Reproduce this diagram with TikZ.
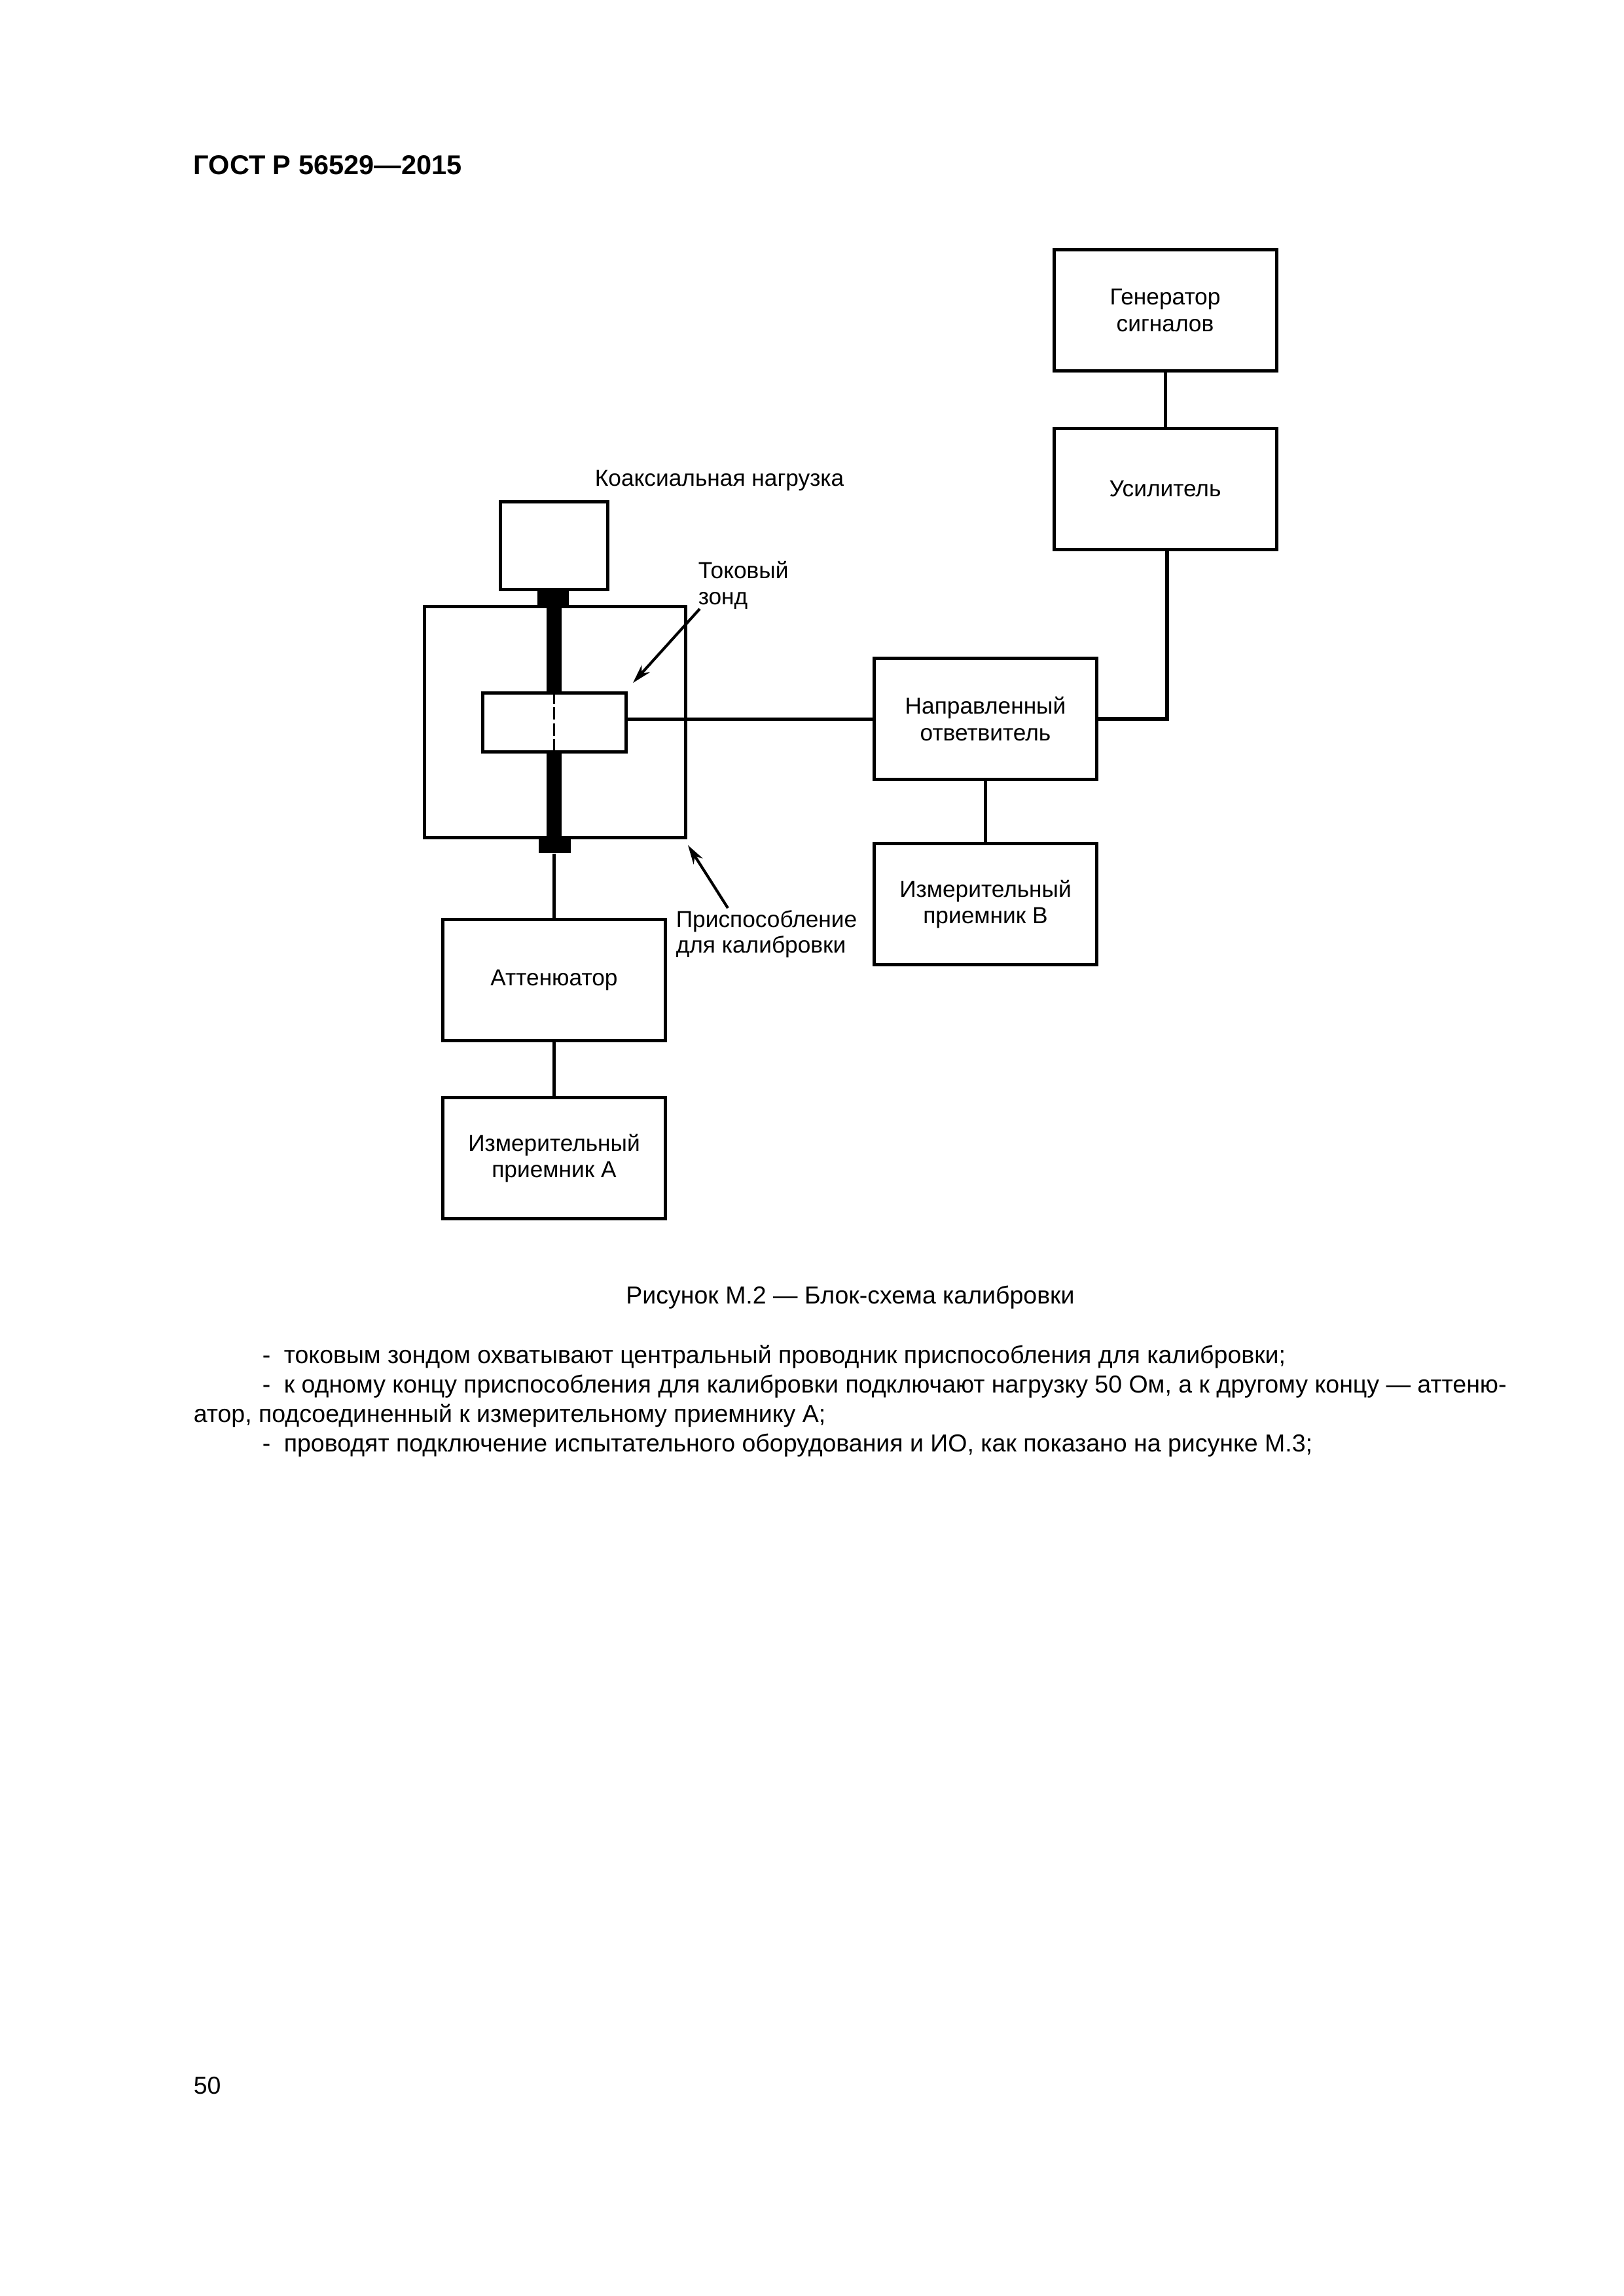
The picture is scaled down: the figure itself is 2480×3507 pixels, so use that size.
\documentclass[tikz,border=0pt]{standalone}
\usepackage{fontspec}
\setmainfont{Liberation Sans}
\usetikzlibrary{arrows.meta}
\tikzset{
    blockbox/.style={draw, line width=1.2bp, fill=white, minimum width=340*0.24bp, minimum height=185*0.24bp, inner sep=0pt, align=center, font=\labelfont},
    wire/.style={line width=1.2bp},
    conductor/.style={line width=5.5bp},
    pointer/.style={line width=1bp, -{Stealth[length=7bp,width=4bp]}},
    pagetext/.style={inner sep=0pt, anchor=base west, font=\bodyfont},
    labeltext/.style={inner sep=0pt, anchor=base west, font=\labelfont}
}
\newcommand{\labelfont}{\fontsize{8.5}{9.7}\selectfont}
\newcommand{\bodyfont}{\fontsize{9.03}{10.7}\selectfont}
\begin{document}
\begin{tikzpicture}[x=0.24bp, y=-0.24bp]
    \useasboundingbox (0,0) rectangle (2480,3507);

    \node [pagetext, font=\fontsize{10}{12}\selectfont\bfseries] (header) at (295,266) {ГОСТ Р 56529—2015};

    % right branch
    \node [blockbox] (generator) at (1780,474) {Генератор\\сигналов};
    \node [blockbox] (amplifier) at (1780,746.5) {Усилитель};
    \node [blockbox] (coupler) at (1505.5,1098) {Направленный\\ответвитель};
    \node [blockbox] (receiverB) at (1505.5,1381) {Измерительный\\приемник В};
    \draw [wire] (generator) -- (amplifier);
    \draw [wire] (coupler) -- (receiverB);
    \coordinate (bend) at ([xshift=0.7bp]amplifier.south |- coupler.east);
    \draw [wire, line width=1.4bp] (bend |- amplifier.south) -- (bend) -- (coupler.east);

    % calibration fixture
    \node [blockbox, minimum width=164*0.24bp, minimum height=134*0.24bp] (load) at (846,833) {};
    \node [blockbox, minimum width=399*0.24bp, minimum height=353*0.24bp] (fixture) at (847.5,1102.5) {};
    \node [fill, draw=none, minimum width=48*0.24bp, minimum height=25*0.24bp, inner sep=0pt] (conntop) at (845,913) {};
    \node [fill, draw=none, minimum width=49*0.24bp, minimum height=24*0.24bp, inner sep=0pt] (connbot) at (847.5,1291) {};
    \node [blockbox, minimum width=219*0.24bp, minimum height=90*0.24bp] (probe) at (846.5,1103) {};
    \draw [conductor] (conntop.south -| probe.north) -- (probe.north);
    \draw [conductor] (probe.south) -- (connbot.north -| probe.south);
    \draw [line width=0.7bp, dash pattern=on 4.6bp off 1.3bp] (probe.north) -- (probe.south);
    \draw [wire] (probe.east |- coupler.west) -- (coupler.west);

    % left branch
    \node [blockbox] (attenuator) at (846.5,1497) {Аттенюатор};
    \node [blockbox] (receiverA) at (846.5,1769) {Измерительный\\приемник А};
    \draw [wire] (connbot.south -| attenuator.north) -- (attenuator.north);
    \draw [wire] (attenuator) -- (receiverA);

    % labels and arrows
    \node [labeltext] (loadlabel) at (908,742) {Коаксиальная нагрузка};
    \node [labeltext] (probelabel) at (1066,883) {Токовый};
    \node [labeltext] (probelabelb) at (1066,923) {зонд};
    \node [labeltext] (fixlabel) at (1032,1416) {Приспособление};
    \node [labeltext] (fixlabelb) at (1032,1455) {для калибровки};
    \coordinate (probestart) at (1069,930);
    \coordinate (probetip) at (967,1043);
    \coordinate (fixstart) at (1112,1387);
    \coordinate (fixtip) at (1051,1291);
    \draw [pointer] (probestart) -- (probetip);
    \draw [pointer] (fixstart) -- (fixtip);

    % caption and text
    \node [inner sep=0pt, anchor=base, font=\bodyfont] (caption) at (1299,1991) {Рисунок М.2 — Блок-схема калибровки};
    \node [pagetext] (lineA) at (400,2082) {-};
    \node [pagetext] (lineAb) at (433,2082) {токовым зондом охватывают центральный проводник приспособления для калибровки;};
    \node [pagetext] (lineB) at (400,2127) {-};
    \node [pagetext] (lineBb) at (433,2127) {к одному концу приспособления для калибровки подключают нагрузку 50 Ом, а к другому концу — аттеню-};
    \node [pagetext] (lineC) at (295,2172) {атор, подсоединенный к измерительному приемнику А;};
    \node [pagetext] (lineD) at (400,2217) {-};
    \node [pagetext] (lineDb) at (433,2217) {проводят подключение испытательного оборудования и ИО, как показано на рисунке М.3;};

    \node [pagetext] (pagenum) at (295,3198) {50};
\end{tikzpicture}
\end{document}
